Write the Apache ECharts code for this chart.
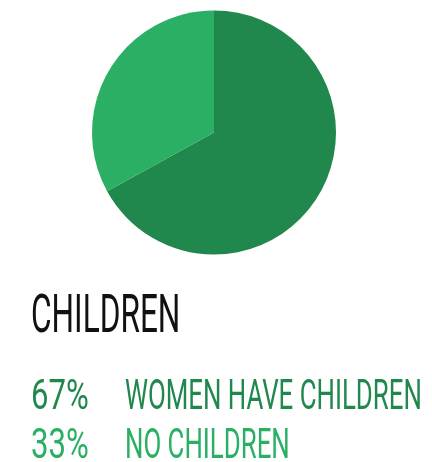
<!DOCTYPE html>
<html lang="en">
<head>
    <meta charset="UTF-8">
    <title>Children</title>
    <style>
        html, body { margin: 0; padding: 0; background: #fff; }
    </style>
</head>
<body>
<div id="main" style="width: 432px;height:462px;"></div>
<script src="https://cdn.jsdelivr.net/npm/echarts@6/dist/echarts.min.js"></script>
<script type="text/javascript">
    var title = 'CHILDREN';
    var names = ['WOMEN HAVE CHILDREN', 'NO CHILDREN'];   // categories
    var values = [67, 33];                                // percent
    var colors = ['#20874d', '#2aaf64'];

    var myChart = echarts.init(document.getElementById('main'));

    // text rows under the pie
    var texts = [];
    texts.push({
        type: 'text',
        x: 31, y: 318.5,
        scaleX: 0.585,
        style: {
            text: title,
            font: '400 54px Roboto',
            fill: '#111',
            verticalAlign: 'middle'
        }
    });
    for (var i = 0; i < names.length; i++) {
        var yy = 398.5 + i * 49;
        texts.push({
            type: 'text',
            x: 31, y: yy,
            scaleX: 0.74,
            style: {
                text: values[i] + '%',
                font: '400 42px Roboto',
                fill: colors[i],
                verticalAlign: 'middle'
            }
        });
        texts.push({
            type: 'text',
            x: 125, y: yy,
            scaleX: 0.615,
            style: {
                text: names[i],
                font: '400 42px Roboto',
                fill: colors[i],
                verticalAlign: 'middle'
            }
        });
    }

    myChart.setOption({
        animation: false,
        color: colors,
        series: [{
            type: 'pie',
            silent: true,
            center: [214, 132.5],
            radius: 122,
            startAngle: 90,
            label: { show: false },
            labelLine: { show: false },
            data: names.map(function (n, i) {
                return { name: n, value: values[i] };
            })
        }],
        graphic: texts
    });
</script>
</body>
</html>
